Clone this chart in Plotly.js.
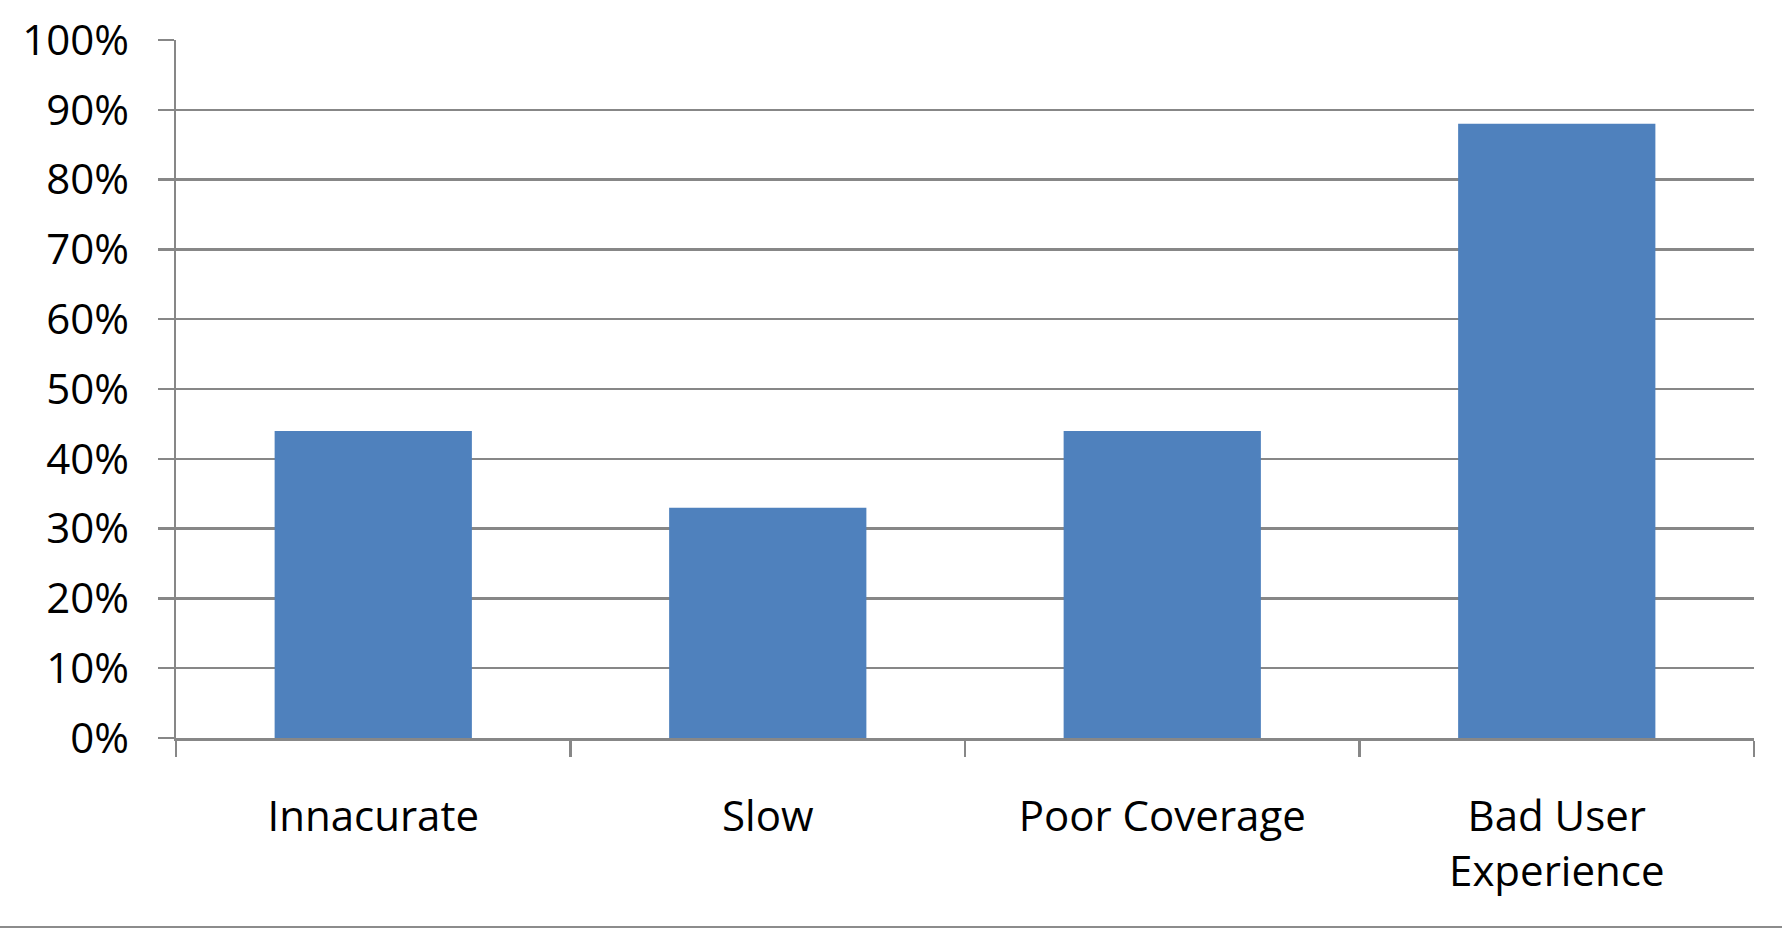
<!DOCTYPE html>
<html>
<head>
<meta charset="utf-8">
<script src="https://cdn.plot.ly/plotly-3.0.1.min.js"></script>
<style>
  html, body { margin: 0; padding: 0; background: #fff; }
  #chart { width: 1782px; height: 926px; border-bottom: 2px solid #8c8c8c; }
</style>
</head>
<body>
<div id="chart"></div>
<script>
const categories = ["Innacurate", "Slow", "Poor Coverage", "Bad User<br>Experience"];
const values = [0.44, 0.33, 0.44, 0.88];
const yTickValues = [0, 0.1, 0.2, 0.3, 0.4, 0.5, 0.6, 0.7, 0.8, 0.9, 1.0];

const gridColor = "#878787";
const fontFamily = "'Open Sans', 'Noto Sans', sans-serif";

const trace = {
  type: "bar",
  x: categories,
  y: values,
  marker: { color: "#4F81BD", line: { width: 0 } },
  hoverinfo: "skip"
};

const layout = {
  width: 1782,
  height: 926,
  margin: { l: 176, r: 28, t: 40, b: 188.4, pad: 0 },
  paper_bgcolor: "#ffffff",
  plot_bgcolor: "#ffffff",
  showlegend: false,
  bargap: 0.5,
  font: { family: fontFamily, color: "#000000" },
  xaxis: {
    type: "category",
    showgrid: false,
    showline: true,
    linecolor: gridColor,
    linewidth: 2.5,
    ticks: "outside",
    ticklen: 16,
    tickwidth: 2.5,
    tickcolor: gridColor,
    tickson: "boundaries",
    tickfont: { family: fontFamily, size: 42, color: "#000000" },
    ticklabelstandoff: 40,
    zeroline: false,
    fixedrange: true
  },
  yaxis: {
    range: [0, 1],
    tickvals: yTickValues,
    tickformat: ".0%",
    showgrid: true,
    gridcolor: gridColor,
    gridwidth: 2.5,
    showline: true,
    linecolor: gridColor,
    linewidth: 2.5,
    ticks: "outside",
    ticklen: 16,
    tickwidth: 2.5,
    tickcolor: gridColor,
    tickfont: { family: fontFamily, size: 42, color: "#000000" },
    ticklabelstandoff: 20,
    zeroline: false,
    fixedrange: true
  }
};

Plotly.newPlot("chart", [trace], layout, { displayModeBar: false, staticPlot: true });
</script>
</body>
</html>
